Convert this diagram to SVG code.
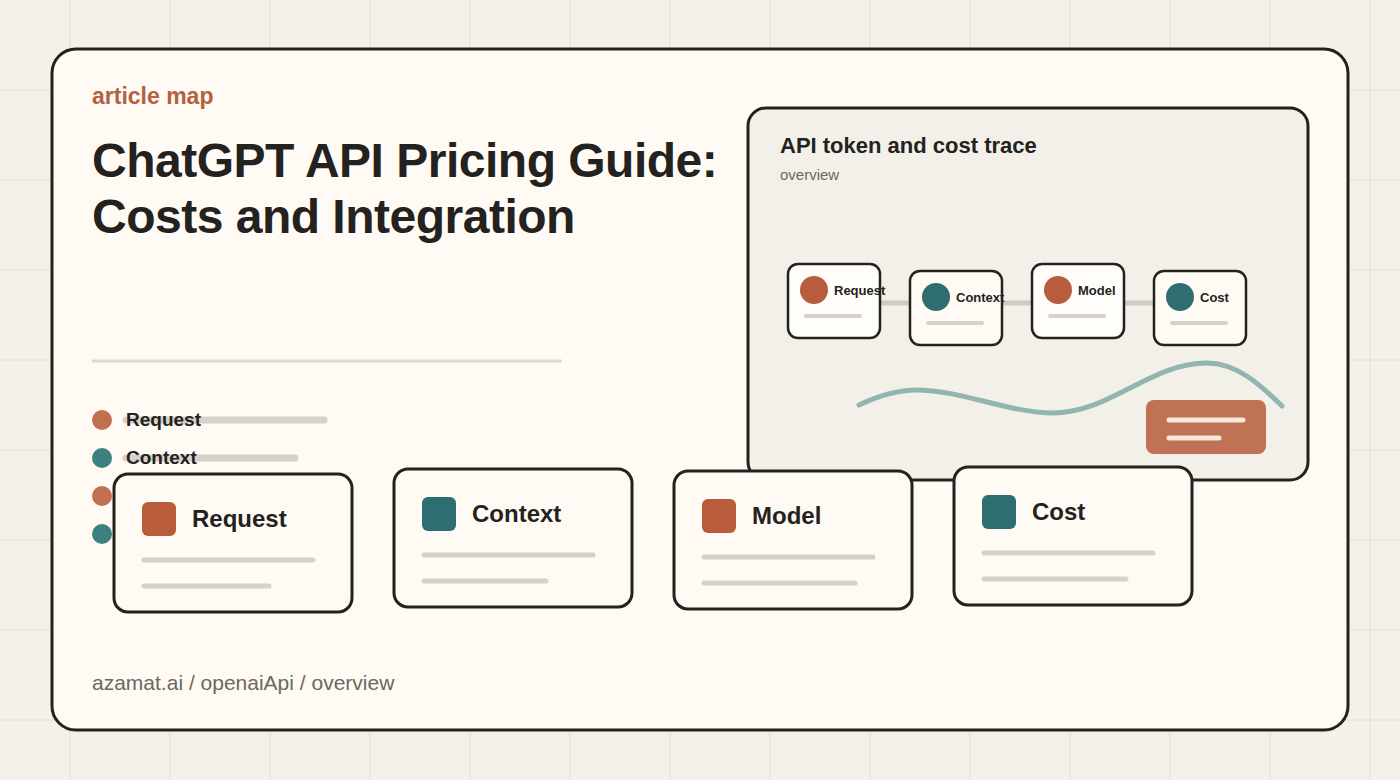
<svg xmlns="http://www.w3.org/2000/svg" width="1400" height="780" viewBox="0 0 1400 780">
<defs>
<style>
.grid line{stroke:#e7e4dc;stroke-width:1.5}
.card{fill:#fffaf3;stroke:#23221e;stroke-width:3}
.bar{stroke:#d6d2ca;stroke-linecap:round;fill:none}
.t{font-family:"Liberation Sans",Arial,sans-serif;fill:#23221e}
.b{font-weight:700}
.or{fill:#b95c3b}
.te{fill:#2e6e70}
</style>
</defs>
<rect width="1400" height="780" fill="#f3f1ea"/>
<g class="grid">
<line x1="70" y1="0" x2="70" y2="780"/><line x1="170" y1="0" x2="170" y2="780"/><line x1="270" y1="0" x2="270" y2="780"/><line x1="370" y1="0" x2="370" y2="780"/><line x1="470" y1="0" x2="470" y2="780"/><line x1="570" y1="0" x2="570" y2="780"/><line x1="670" y1="0" x2="670" y2="780"/><line x1="770" y1="0" x2="770" y2="780"/><line x1="870" y1="0" x2="870" y2="780"/><line x1="970" y1="0" x2="970" y2="780"/><line x1="1070" y1="0" x2="1070" y2="780"/><line x1="1170" y1="0" x2="1170" y2="780"/><line x1="1270" y1="0" x2="1270" y2="780"/><line x1="1370" y1="0" x2="1370" y2="780"/>
<line x1="0" y1="90" x2="1400" y2="90"/><line x1="0" y1="180" x2="1400" y2="180"/><line x1="0" y1="270" x2="1400" y2="270"/><line x1="0" y1="360" x2="1400" y2="360"/><line x1="0" y1="450" x2="1400" y2="450"/><line x1="0" y1="540" x2="1400" y2="540"/><line x1="0" y1="630" x2="1400" y2="630"/><line x1="0" y1="720" x2="1400" y2="720"/>
</g>
<rect x="52" y="49" width="1296" height="681" rx="24" class="card"/>
<text x="92" y="104" class="t b" font-size="23" style="fill:#b5603f">article map</text>
<text class="t b" font-size="48" letter-spacing="-0.5"><tspan x="92" y="177">ChatGPT API Pricing Guide:</tspan><tspan x="92" y="233">Costs and Integration</tspan></text>
<line x1="92" y1="361" x2="562" y2="361" stroke="#dedad2" stroke-width="3"/>
<g id="list">
<line x1="126" y1="420" x2="324" y2="420" class="bar" stroke-width="7"/>
<line x1="126" y1="458" x2="295" y2="458" class="bar" stroke-width="7"/>
<circle cx="102" cy="420" r="10" fill="#c0704f"/>
<circle cx="102" cy="458" r="10" fill="#3e7f80"/>
<circle cx="102" cy="496" r="10" fill="#c0704f"/>
<circle cx="102" cy="534" r="10" fill="#3e7f80"/>
<text x="126" y="426" class="t b" font-size="19">Request</text>
<text x="126" y="464" class="t b" font-size="19">Context</text>
</g>
<g id="panel">
<rect x="748" y="108" width="560" height="372" rx="18" fill="#f2f0e8" stroke="#23221e" stroke-width="3"/>
<text x="780" y="153" class="t b" font-size="22">API token and cost trace</text>
<text x="780" y="180" class="t" font-size="15" style="fill:#6b6860">overview</text>
<g id="mini-connectors" stroke="#cfcbc2" stroke-width="5">
<line x1="880" y1="303" x2="910" y2="303"/>
<line x1="1002" y1="303" x2="1032" y2="303"/>
<line x1="1124" y1="303" x2="1154" y2="303"/>
</g>
<g id="mini-request"><rect x="788" y="264" width="92" height="74" rx="10" fill="#fffdf9" stroke="#23221e" stroke-width="2.5"/><circle cx="814" cy="290" r="14" fill="#b95c3b"/><text x="834" y="295" class="t b" font-size="13">Request</text><line x1="806" y1="316" x2="860" y2="316" class="bar" stroke-width="4"/></g>
<g id="mini-context"><rect x="910" y="271" width="92" height="74" rx="10" fill="#fffaf3" stroke="#23221e" stroke-width="2.5"/><circle cx="936" cy="297" r="14" fill="#2e6e70"/><text x="956" y="302" class="t b" font-size="13">Context</text><line x1="928" y1="323" x2="982" y2="323" class="bar" stroke-width="4"/></g>
<g id="mini-model"><rect x="1032" y="264" width="92" height="74" rx="10" fill="#fffdf9" stroke="#23221e" stroke-width="2.5"/><circle cx="1058" cy="290" r="14" fill="#b95c3b"/><text x="1078" y="295" class="t b" font-size="13">Model</text><line x1="1050" y1="316" x2="1104" y2="316" class="bar" stroke-width="4"/></g>
<g id="mini-cost"><rect x="1154" y="271" width="92" height="74" rx="10" fill="#fffaf3" stroke="#23221e" stroke-width="2.5"/><circle cx="1180" cy="297" r="14" fill="#2e6e70"/><text x="1200" y="302" class="t b" font-size="13">Cost</text><line x1="1172" y1="323" x2="1226" y2="323" class="bar" stroke-width="4"/></g>
<path d="M859 405 C 880 395, 898 390, 917 390 C 960 390, 1010 413, 1053 413 C 1110 413, 1150 363, 1207 363 C 1240 363, 1265 390, 1282 406" fill="none" stroke="#93b5b2" stroke-width="5" stroke-linecap="round"/>
<rect x="1146" y="400" width="120" height="54" rx="8" fill="#bf7254"/>
<line x1="1169" y1="420" x2="1243" y2="420" stroke="#f7e8dc" stroke-width="5" stroke-linecap="round"/>
<line x1="1169" y1="438" x2="1219" y2="438" stroke="#f7e8dc" stroke-width="5" stroke-linecap="round"/>
</g>
<g id="card-request"><rect x="114" y="474" width="238" height="138" rx="14" class="card"/><rect x="142" y="502" width="34" height="34" rx="6" class="or"/><text x="192" y="527" class="t b" font-size="24">Request</text><line x1="144" y1="560" x2="313" y2="560" class="bar" stroke-width="5"/><line x1="144" y1="586" x2="269" y2="586" class="bar" stroke-width="5"/></g>
<g id="card-context"><rect x="394" y="469" width="238" height="138" rx="14" class="card"/><rect x="422" y="497" width="34" height="34" rx="6" class="te"/><text x="472" y="522" class="t b" font-size="24">Context</text><line x1="424" y1="555" x2="593" y2="555" class="bar" stroke-width="5"/><line x1="424" y1="581" x2="546" y2="581" class="bar" stroke-width="5"/></g>
<g id="card-model"><rect x="674" y="471" width="238" height="138" rx="14" class="card"/><rect x="702" y="499" width="34" height="34" rx="6" class="or"/><text x="752" y="524" class="t b" font-size="24">Model</text><line x1="704" y1="557" x2="873" y2="557" class="bar" stroke-width="5"/><line x1="704" y1="583" x2="855" y2="583" class="bar" stroke-width="5"/></g>
<g id="card-cost"><rect x="954" y="467" width="238" height="138" rx="14" class="card"/><rect x="982" y="495" width="34" height="34" rx="6" class="te"/><text x="1032" y="520" class="t b" font-size="24">Cost</text><line x1="984" y1="553" x2="1153" y2="553" class="bar" stroke-width="5"/><line x1="984" y1="579" x2="1126" y2="579" class="bar" stroke-width="5"/></g>
<text x="92" y="690" class="t" font-size="21" style="fill:#6b6860">azamat.ai / openaiApi / overview</text>
</svg>
